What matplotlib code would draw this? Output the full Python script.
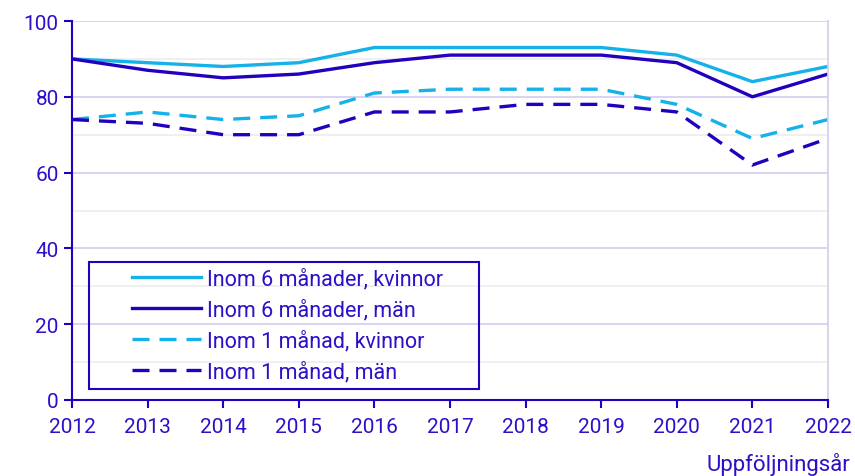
import numpy as np
import matplotlib
matplotlib.use("Agg")
import matplotlib.pyplot as plt
from matplotlib.ticker import MultipleLocator
from matplotlib.patches import Rectangle

plt.rcParams['font.family'] = ['Roboto', 'DejaVu Sans']

years = [2012, 2013, 2014, 2015, 2016, 2017, 2018, 2019, 2020, 2021, 2022]
sex_m_kvinnor = [90, 89, 88, 89, 93, 93, 93, 93, 91, 84, 88]
sex_m_man = [90, 87, 85, 86, 89, 91, 91, 91, 89, 80, 86]
en_m_kvinnor = [74, 76, 74, 75, 81, 82, 82, 82, 78, 69, 74]
en_m_man = [74, 73, 70, 70, 76, 76, 78, 78, 76, 62, 69]

labels = ["Inom 6 månader, kvinnor", "Inom 6 månader, män",
          "Inom 1 månad, kvinnor", "Inom 1 månad, män"]

ljusbla = "#14B2E8"
morkbla = "#2200BE"
textfarg = "#2A10C8"

W, H = 855, 477
fig = plt.figure(figsize=(8.55, 4.77), dpi=100)
ax = fig.add_axes([72 / W, 1 - 401 / H, 756 / W, 379 / H])

lw = 2.4
streck = (5.1, 3.0)
ax.plot(years, sex_m_kvinnor, color=ljusbla, lw=lw, label=labels[0])
ax.plot(years, sex_m_man, color=morkbla, lw=lw, label=labels[1])
ax.plot(years, en_m_kvinnor, color=ljusbla, lw=lw, dashes=streck, label=labels[2])
ax.plot(years, en_m_man, color=morkbla, lw=lw, dashes=streck, label=labels[3])

ax.set_xlim(2012, 2022)
ax.set_ylim(0, 100)
ax.set_xticks(years)
ax.yaxis.set_major_locator(MultipleLocator(20))
ax.yaxis.set_minor_locator(MultipleLocator(10))
ax.grid(axis='y', which='major', color="#D4D0F0", lw=1.3)
ax.grid(axis='y', which='minor', color="#EEEEF0", lw=1.3)
ax.set_axisbelow(True)

for s in ['left', 'bottom']:
    ax.spines[s].set_color(morkbla)
    ax.spines[s].set_linewidth(1.5)
ax.spines['top'].set_visible(False)
ax.spines['right'].set_color("#D4D0F0")
ax.spines['right'].set_linewidth(1.3)

ax.tick_params(axis='both', which='major', colors=morkbla, labelcolor=textfarg,
               labelsize=15, length=6, width=1.5)
ax.tick_params(axis='y', which='minor', length=0)
ax.tick_params(axis='x', pad=6)

fig.text(850 / W, 1 - 471 / H, "Uppföljningsår", ha='right', va='baseline',
         fontsize=16, color=textfarg)

# legend without its own frame, box drawn separately
leg = fig.legend(loc='center left', bbox_to_anchor=(132 / W, 1 - 326 / H), fontsize=15.5,
                 handlelength=3.2, handletextpad=0.3, labelspacing=0.44,
                 frameon=False, borderpad=0, borderaxespad=0)
for t in leg.get_texts():
    t.set_color(textfarg)
fig.patches.append(Rectangle((89 / W, 1 - 390 / H), 390 / W, 127 / H,
                             transform=fig.transFigure, fill=False,
                             edgecolor=morkbla, lw=1.5, zorder=5))

fig.savefig("out.png", dpi=100)
